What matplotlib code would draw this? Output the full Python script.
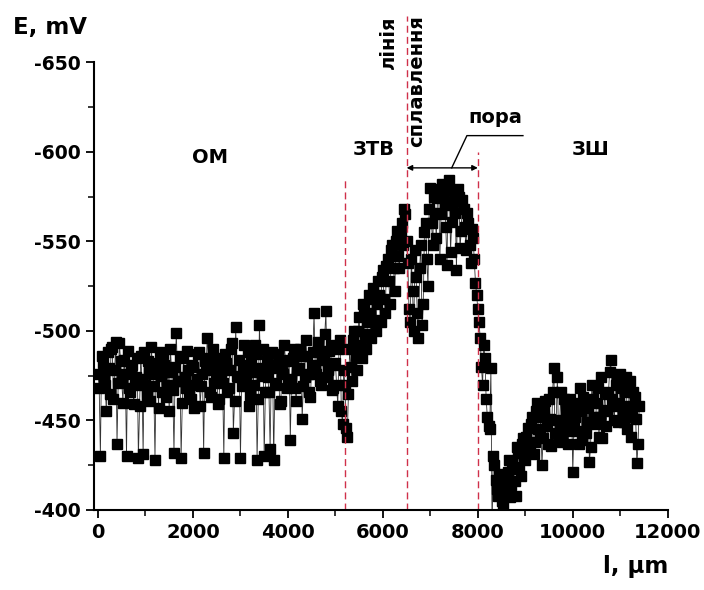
import numpy as np
import matplotlib.pyplot as plt
from matplotlib.ticker import MultipleLocator

plt.rcParams['font.family'] = ['DejaVu Sans']
plt.rcParams['font.weight'] = 'bold'
plt.rcParams['axes.unicode_minus'] = False

# measurement step along the line, um (points at 0, 25, 50, ...)
l_step = 25

# values read at l = 0, 50, 100, ... (set A) and l = 25, 75, 125, ... (set B)
# base metal (ОМ), 0 .. 4975 um
E_om_a = [-476, -430, -482, -470, -488, -465, -491, -478, -437, -493,
          -472, -484, -430, -468, -480, -459, -474, -429, -486, -431,
          -470, -483, -461, -476, -428, -479, -488, -466, -481, -470,
          -455, -477, -432, -499, -472, -429, -485, -468, -478, -462,
          -480, -470, -487, -458, -476, -483, -496, -466, -479, -471,
          -485, -462, -477, -429, -482, -468, -490, -443, -502, -474,
          -429, -481, -470, -488, -464, -477, -492, -428, -503, -475,
          -430, -484, -466, -479, -428, -470, -487, -461, -476, -483,
          -472, -439, -485, -468, -478, -490, -451, -474, -486, -466,
          -481, -510, -476, -489, -470, -484, -511, -478, -492, -468]
E_om_b = [-468, -486, -474, -455, -479, -490, -462, -494, -471, -483,
          -460, -476, -489, -466, -481, -470, -485, -458, -473, -488,
          -464, -477, -491, -469, -482, -457, -475, -487, -463, -478,
          -490, -467, -480, -472, -486, -460, -474, -489, -466, -481,
          -457, -473, -488, -469, -432, -478, -485, -463, -490, -474,
          -459, -480, -471, -487, -466, -478, -493, -461, -475, -484,
          -469, -492, -476, -458, -483, -470, -487, -462, -479, -490,
          -466, -474, -434, -488, -471, -481, -459, -477, -492, -468,
          -484, -473, -490, -461, -479, -486, -469, -495, -476, -463,
          -488, -480, -494, -472, -485, -498, -474, -489, -467, -481]

# heat affected zone (ЗТВ), 5000 .. 6475 um
E_ztv_a = [-482, -458, -495, -448, -470, -441, -490, -472, -500, -478,
           -508, -485, -512, -490, -520, -496, -524, -500, -528, -505,
           -534, -510, -540, -515, -548, -522, -556, -535, -560, -568]
E_ztv_b = [-470, -490, -455, -478, -446, -465, -480, -495, -486, -500,
           -492, -515, -498, -505, -510, -518, -506, -515, -520, -530,
           -518, -536, -528, -545, -535, -550, -542, -555, -548, -565]

# weld metal with pore, 6500 .. 7975 um
E_pore_a = [-550, -512, -540, -500, -530, -496, -548, -515, -560, -525,
            -580, -548, -566, -574, -540, -582, -570, -537, -584, -561,
            -578, -534, -575, -556, -568, -545, -560, -538, -552, -527]
E_pore_b = [-538, -505, -522, -545, -510, -535, -503, -555, -540, -568,
            -560, -575, -552, -579, -565, -576, -558, -581, -544, -572,
            -566, -579, -546, -573, -558, -566, -548, -557, -540, -520]

# weld (ЗШ), 8000 .. 11400 um
E_zsh_a = [-512, -496, -470, -485, -452, -445, -390, -425, -412, -420,
           -405, -418, -410, -428, -414, -423, -408, -432, -419, -440,
           -428, -446, -433, -452, -438, -460, -442, -425, -455, -447,
           -462, -436, -479, -450, -441, -466, -445, -456, -437, -462,
           -421, -452, -444, -468, -439, -458, -449, -427, -470, -452,
           -460, -441, -474, -455, -447, -465, -484, -458, -470, -449,
           -476, -455, -466, -445, -472, -452, -463, -426, -458]
E_zsh_b = [-505, -480, -492, -462, -447, -479, -430, -417, -408, -415,
           -402, -412, -421, -407, -426, -416, -435, -424, -437, -430,
           -441, -436, -448, -431, -455, -445, -452, -440, -461, -437,
           -451, -466, -443, -474, -449, -438, -462, -451, -444, -458,
           -447, -460, -437, -455, -463, -443, -457, -435, -462, -448,
           -468, -452, -440, -466, -456, -477, -462, -450, -473, -460,
           -468, -449, -474, -458, -441, -466, -451, -437]

# zone boundaries, um
boundaries = [5200, 6500, 8000]

E_a = E_om_a + E_ztv_a + E_pore_a + E_zsh_a
E_b = E_om_b + E_ztv_b + E_pore_b + E_zsh_b
E = np.empty(len(E_a) + len(E_b))
E[0::2] = E_a
E[1::2] = E_b
l = l_step * np.arange(len(E))

fig = plt.figure(figsize=(7.04, 5.90), dpi=100)
ax = fig.add_axes([0.1335, 0.1356, 0.815, 0.759])

ax.plot(l, E, color='#333333', lw=0.6, marker='s', ms=6.5,
        mfc='black', mec='black')

red = '#d0304a'
ax.plot([boundaries[0]] * 2, [-400, -585], color=red, lw=1.0, dashes=(5, 3))
ax.plot([boundaries[1]] * 2, [-400, -676], color=red, lw=1.0, dashes=(5, 3), clip_on=False)
ax.plot([boundaries[2]] * 2, [-400, -600], color=red, lw=1.0, dashes=(5, 3))

ax.set_xlim(-85, 12000)
ax.set_ylim(-400, -650)
ax.xaxis.set_major_locator(MultipleLocator(2000))
ax.xaxis.set_minor_locator(MultipleLocator(1000))
ax.yaxis.set_major_locator(MultipleLocator(50))
ax.yaxis.set_minor_locator(MultipleLocator(25))
ax.tick_params(which='major', direction='out', length=6, width=1.3)
ax.tick_params(which='minor', direction='out', length=4, width=1.1)
ax.tick_params(axis='x', labelsize=14)
ax.tick_params(axis='y', labelsize=13.5)
for s in ['top', 'right']:
    ax.spines[s].set_visible(False)
for s in ['left', 'bottom']:
    ax.spines[s].set_linewidth(1.5)

fig.text(0.018, 0.954, 'E, mV', fontsize=16.5, fontweight='bold', va='center')
fig.text(0.949, 0.039, 'l, μm', fontsize=16.5, fontweight='bold', ha='right', va='center')

ax.text(2360, -597, 'ОМ', fontsize=14, ha='center', va='center')
ax.text(5810, -601, 'ЗТВ', fontsize=14, ha='center', va='center')
ax.text(10380, -601, 'ЗШ', fontsize=14, ha='center', va='center')
ax.text(8360, -619, 'пора', fontsize=14, ha='center', va='center')
ax.text(6110, -676, 'лінія', fontsize=14, rotation=90, ha='center', va='top')
ax.text(6715, -676, 'сплавлення', fontsize=14, rotation=90, ha='center', va='top')

ax.annotate('', xy=(6500, -591), xytext=(8000, -591),
            arrowprops=dict(arrowstyle='<|-|>', color='black', lw=1.0,
                            mutation_scale=8, shrinkA=0, shrinkB=0))
ax.plot([7450, 7770, 8950], [-591, -609, -609], color='black', lw=1.0, clip_on=False)

fig.savefig('out.png', dpi=100)
